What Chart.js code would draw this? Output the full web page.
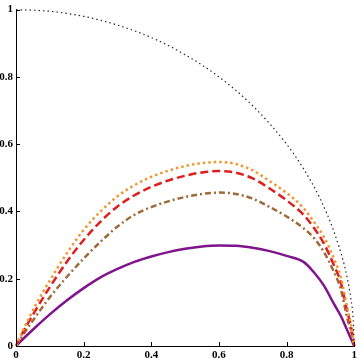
<!DOCTYPE html>
<html>
<head>
<meta charset="utf-8">
<script src="https://cdn.jsdelivr.net/npm/chart.js@4/dist/chart.umd.min.js"></script>
<style>
  html, body { margin: 0; padding: 0; background: #fff; }
  #wrap { width: 360px; height: 361px; }
</style>
</head>
<body>
<div id="wrap"><canvas id="curveChart" width="360" height="361"></canvas></div>
<script>
// quarter circle (black dotted)
const xCircle = [0, 0.1, 0.2, 0.3, 0.4, 0.5, 0.6, 0.7, 0.8, 0.85, 0.9, 0.94, 0.97, 0.98, 0.99, 0.997, 1];
const yCircle = [1, 0.995, 0.98, 0.954, 0.917, 0.866, 0.8, 0.714, 0.6, 0.527, 0.436, 0.34, 0.243, 0.199, 0.141, 0.077, 0];

// shared x positions for the four coloured curves
const xCurves = [0, 0.02, 0.06, 0.1, 0.15, 0.2, 0.25, 0.3, 0.35, 0.4, 0.45, 0.5, 0.55, 0.6,
                 0.65, 0.7, 0.75, 0.8, 0.85, 0.88, 0.91, 0.94, 0.96, 0.98, 0.99, 1];
const yOrange = [0, 0.045, 0.125, 0.195, 0.275, 0.345, 0.4, 0.445, 0.478, 0.503, 0.521, 0.535, 0.544, 0.547,
                 0.541, 0.522, 0.49, 0.455, 0.41, 0.37, 0.325, 0.26, 0.205, 0.11, 0.065, 0];
const yRed    = [0, 0.04, 0.11, 0.175, 0.25, 0.315, 0.37, 0.415, 0.448, 0.473, 0.492, 0.506, 0.516, 0.52,
                 0.515, 0.498, 0.468, 0.433, 0.39, 0.352, 0.305, 0.24, 0.19, 0.1, 0.06, 0];
const yBrown  = [0, 0.032, 0.09, 0.145, 0.205, 0.26, 0.31, 0.355, 0.39, 0.413, 0.43, 0.443, 0.452, 0.456,
                 0.452, 0.438, 0.413, 0.385, 0.35, 0.322, 0.28, 0.22, 0.17, 0.08, 0.045, 0];
const yPurple = [0, 0.02, 0.058, 0.094, 0.135, 0.172, 0.204, 0.229, 0.25, 0.266, 0.279, 0.289, 0.296, 0.299,
                 0.298, 0.292, 0.282, 0.268, 0.25, 0.22, 0.18, 0.125, 0.09, 0.045, 0.022, 0];

const axisTicks = [0, 0.2, 0.4, 0.6, 0.8, 1];

function toPoints(xs, ys) {
    return xs.map((x, i) => ({ x: x, y: ys[i] }));
}

// small tick marks pointing into the plot
const inwardTicks = {
    id: 'inwardTicks',
    afterDraw(chart) {
        const c = chart.ctx;
        const area = chart.chartArea;
        const sx = chart.scales.x;
        const sy = chart.scales.y;
        c.save();
        c.strokeStyle = '#000';
        c.lineWidth = 1;
        axisTicks.forEach(v => {
            const px = Math.round(sx.getPixelForValue(v)) + 0.5;
            c.beginPath();
            c.moveTo(px, area.bottom);
            c.lineTo(px, area.bottom - 4);
            c.stroke();
            const py = Math.round(sy.getPixelForValue(v)) + 0.5;
            c.beginPath();
            c.moveTo(area.left, py);
            c.lineTo(area.left + 4, py);
            c.stroke();
        });
        c.restore();
    }
};

function tickText(value) {
    return String(+value.toFixed(1));
}

document.addEventListener('DOMContentLoaded', function() {
    Chart.defaults.font.family = "'Liberation Serif', 'DejaVu Serif', serif";
    Chart.defaults.font.size = 11;
    Chart.defaults.font.weight = 'bold';
    Chart.defaults.color = '#000';

    var ctx = document.getElementById('curveChart').getContext('2d');
    var myChart = new Chart(ctx, {
        type: 'line',
        data: {
            datasets: [
                {
                    label: 'circle',
                    data: toPoints(xCircle, yCircle),
                    borderColor: 'rgba(40, 40, 40, 1)',
                    borderWidth: 1.2,
                    borderDash: [1.5, 3],
                    pointRadius: 0,
                    cubicInterpolationMode: 'monotone',
                    clip: 4
                },
                {
                    label: 'orange',
                    data: toPoints(xCurves, yOrange),
                    borderColor: 'rgba(242, 150, 48, 1)',
                    borderWidth: 2.5,
                    borderDash: [2.5, 3],
                    pointRadius: 0,
                    cubicInterpolationMode: 'monotone',
                    clip: 4
                },
                {
                    label: 'red',
                    data: toPoints(xCurves, yRed),
                    borderColor: 'rgba(222, 30, 30, 1)',
                    borderWidth: 2.5,
                    borderDash: [8, 4],
                    pointRadius: 0,
                    cubicInterpolationMode: 'monotone',
                    clip: 4
                },
                {
                    label: 'brown',
                    data: toPoints(xCurves, yBrown),
                    borderColor: 'rgba(158, 106, 58, 1)',
                    borderWidth: 2.5,
                    borderDash: [6, 3, 2, 3],
                    pointRadius: 0,
                    cubicInterpolationMode: 'monotone',
                    clip: 4
                },
                {
                    label: 'purple',
                    data: toPoints(xCurves, yPurple),
                    borderColor: 'rgba(128, 20, 140, 1)',
                    borderWidth: 2.5,
                    pointRadius: 0,
                    cubicInterpolationMode: 'monotone',
                    clip: 4
                }
            ]
        },
        options: {
            responsive: false,
            animation: false,
            layout: { padding: { top: 6, right: 4, left: 0, bottom: 0 } },
            scales: {
                x: {
                    type: 'linear',
                    min: 0,
                    max: 1,
                    afterFit: function(scale) { scale.height = 15; },
                    afterBuildTicks: function(scale) { scale.ticks = axisTicks.map(v => ({ value: v })); },
                    grid: { display: true, drawOnChartArea: false, drawTicks: false },
                    border: { display: true, color: '#000', width: 1 },
                    ticks: { padding: 3, maxRotation: 0, autoSkip: false, callback: tickText }
                },
                y: {
                    type: 'linear',
                    min: 0,
                    max: 1,
                    afterFit: function(scale) { scale.width = 16; },
                    afterBuildTicks: function(scale) { scale.ticks = axisTicks.map(v => ({ value: v })); },
                    grid: { display: true, drawOnChartArea: false, drawTicks: false },
                    border: { display: true, color: '#000', width: 1 },
                    ticks: { padding: 3, autoSkip: false, callback: tickText }
                }
            },
            plugins: {
                legend: { display: false },
                tooltip: { enabled: false }
            }
        },
        plugins: [inwardTicks]
    });
});
</script>
</body>
</html>
